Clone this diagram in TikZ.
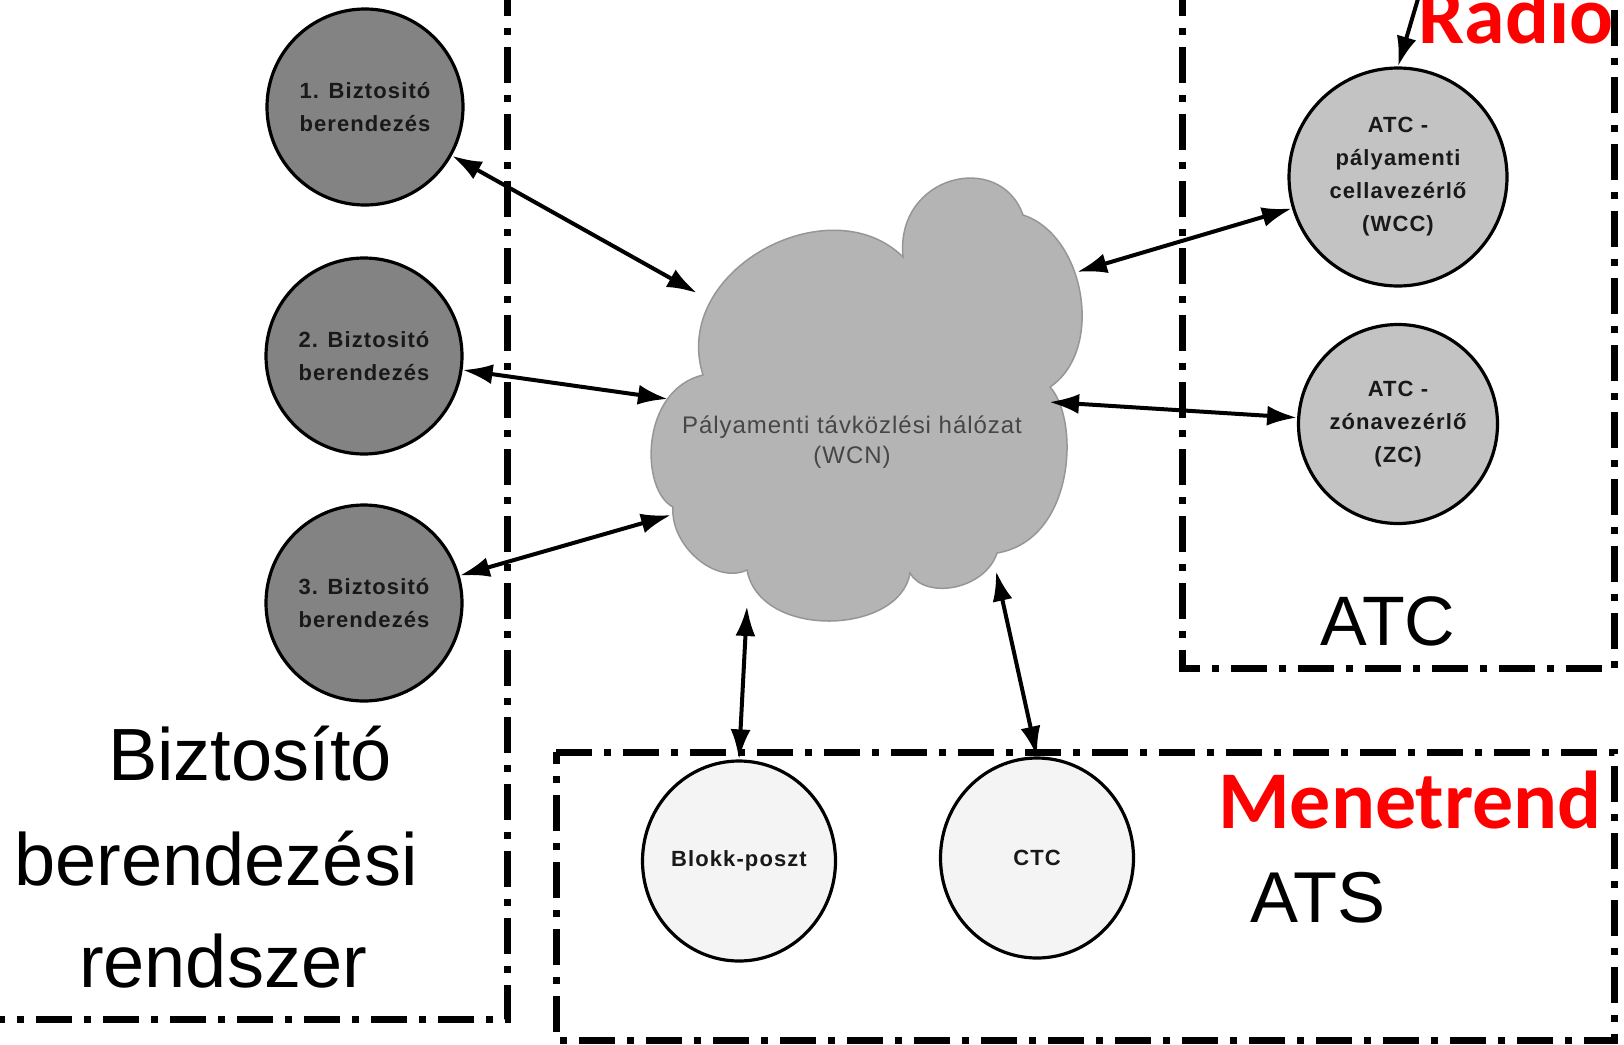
\documentclass[tikz,border=0pt]{standalone}
\usepackage{fontspec}
\setmainfont{Liberation Sans}
\newfontfamily\nodefont[LetterSpace=5]{Liberation Sans}
\newfontfamily\cloudfont[LetterSpace=4]{Liberation Sans}
\newfontfamily\calibfont{Carlito}
\usetikzlibrary{arrows.meta,shapes.geometric}
\definecolor{darkfill}{RGB}{131,131,131}
\definecolor{midfill}{RGB}{195,195,195}
\definecolor{lightfill}{RGB}{244,244,244}
\definecolor{cloudfill}{RGB}{180,180,180}
\definecolor{cloudline}{RGB}{150,150,150}
\definecolor{nodetext}{RGB}{25,25,25}
\definecolor{cloudtext}{RGB}{70,70,70}
\definecolor{redlabel}{RGB}{255,0,0}
\begin{document}
\begin{tikzpicture}[x=1pt,y=-1pt,
  zone/.style={line width=7pt, dash pattern=on 36pt off 12pt on 7pt off 12pt},
  conn/.style={line width=4pt, {Latex[length=30pt,width=20pt]}-{Latex[length=30pt,width=20pt]}},
  oneway/.style={line width=4pt, -{Latex[length=30pt,width=20pt]}},
  circbase/.style={draw, line width=3.2pt, inner sep=0pt, align=center, text=nodetext,
    font=\nodefont\bfseries\fontsize{22}{33}\selectfont},
  bnode/.style={circbase, circle, fill=darkfill, minimum size=196pt},
  atcnode/.style={circbase, circle, fill=midfill},
  atsnode/.style={circbase, ellipse, fill=lightfill, minimum width=193pt, minimum height=200pt},
  biglabel/.style={anchor=base, inner sep=0pt, font=\fontsize{74}{80}\selectfont},
  redtext/.style={anchor=base, inner sep=0pt, text=redlabel, font=\calibfont\bfseries\fontsize{82}{90}\selectfont}
]
\useasboundingbox (0,0) rectangle (1624,1044);
\clip (0,0) rectangle (1624,1044);
\fill[white] (0,0) rectangle (1624,1044);

% zones
\draw[zone] (507,-20) -- (507,1019) -- (-20,1019);
\draw[zone] (1182,-20) -- (1182,668) -- (1614,668) -- (1614,-20);
\draw[zone] (556,752) -- (1614,752) -- (1614,1040) -- (556,1040) -- cycle;

% cloud
\path[fill=cloudfill, draw=cloudline, line width=1.5pt]
  (703,375) .. controls (670,270) and (830,185) .. (903,257)
  .. controls (895,175) and (1000,150) .. (1023,215)
  .. controls (1085,235) and (1105,350) .. (1050,387)
  .. controls (1080,420) and (1075,540) .. (997,553)
  .. controls (985,590) and (925,600) .. (910,573)
  .. controls (900,635) and (760,640) .. (747,570)
  .. controls (715,585) and (670,545) .. (673,507)
  .. controls (640,490) and (640,390) .. (703,375) -- cycle;
\node[align=center, inner sep=0pt, text=cloudtext,
  font=\cloudfont\fontsize{24}{30}\selectfont] (wcn) at (852,442)
  {Pályamenti távközlési hálózat\\(WCN)};

\coordinate (c1) at (697,293);
\coordinate (c2) at (668,399);
\coordinate (c3) at (671,515);
\coordinate (c4) at (1077,272);
\coordinate (c5) at (1049,402);
\coordinate (c6) at (747,606);
\coordinate (c7) at (996,571);

% nodes
\node[bnode] (b1) at (365,107) {1. Biztositó\\berendezés};
\node[bnode] (b2) at (364,356) {2. Biztositó\\berendezés};
\node[bnode] (b3) at (364,603) {3. Biztositó\\berendezés};
\node[atcnode, minimum size=218pt] (wcc) at (1398,177) {ATC -\\pályamenti\\cellavezérlő\\(WCC)};
\node[atcnode, minimum size=199pt] (zc) at (1398,424) {ATC -\\zónavezérlő\\(ZC)};
\node[atsnode] (blokk) at (739,861) {Blokk-poszt};
\node[atsnode] (ctc) at (1037,858) {CTC};

% connectors
\draw[conn] (b1) -- (c1);
\draw[conn] (b2) -- (c2);
\draw[conn] (b3) -- (c3);
\draw[conn] (c4) -- (wcc);
\draw[conn] (c5) -- (zc);
\draw[conn] (c6) -- (blokk.north);
\draw[conn] (c7) -- (ctc.north);
\coordinate (radtop) at (1420,-8);
\draw[oneway] (radtop) -- (wcc.north);

% labels
\node[biglabel] (lb1) at (250,780) {Biztosító};
\node[biglabel] (lb2) at (216,885) {berendezési};
\node[biglabel] (lb3) at (223,987) {rendszer};
\node[anchor=base, inner sep=0pt, font=\fontsize{70}{76}\selectfont] (atc) at (1388,645) {ATC};
\node[anchor=base, inner sep=0pt, font=\fontsize{72}{78}\selectfont] (ats) at (1318,922) {ATS};
\node[redtext] (menetrend) at (1410,828) {Menetrend};
\node[redtext] (radio) at (1516,43) {Radio};
\end{tikzpicture}
\end{document}
